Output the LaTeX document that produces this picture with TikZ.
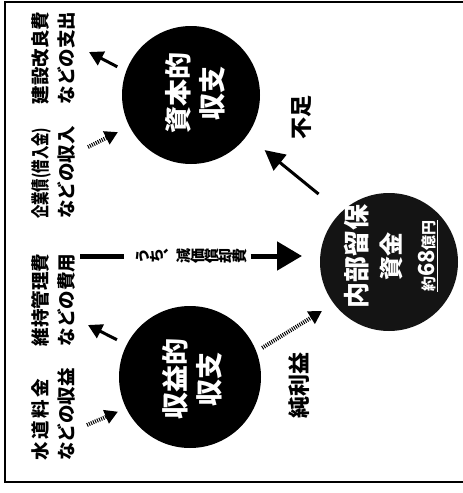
\documentclass[tikz,border=0pt]{standalone}
\usepackage{fontspec}
\newfontfamily\jp{Noto Sans CJK JP}
\usetikzlibrary{arrows.meta}
\begin{document}
\begin{tikzpicture}[x=1pt,y=-1pt,
  circ/.style={circle, fill=black, inner sep=0pt, outer sep=0pt, minimum size=#1},
  lab/.style={rotate=90, align=left, inner sep=0pt, font=\jp\bfseries\fontsize{18.5}{26}\selectfont},
  ctext/.style={rotate=90, align=center, text=white, inner sep=0pt, font=\jp\bfseries\fontsize{27}{34}\selectfont},
  side/.style={rotate=90, inner sep=0pt, font=\jp\bfseries\fontsize{22}{26}\selectfont},
  solidarr/.style={line width=3pt, -{Triangle[length=14pt,width=15pt]}},
  bigsolid/.style={line width=3pt, -{Triangle[length=20pt,width=20pt]}},
  dotarr/.style={line width=4pt, dash pattern=on 1pt off 1.2pt, -{Triangle[length=13pt,width=14pt]}},
  bigarr/.style={line width=5pt, -{Triangle[length=25pt,width=28pt]}}
]
\useasboundingbox (0,0) rectangle (463,493);
\fill[white] (0,0) rectangle (463,493);
\draw[line width=1.2pt] (463,2) -- (5,2) -- (5,482) -- (463,482);

% circles
\node[circ=138] (cap) at (191,95) {};
\node[circ=142] (rev) at (190,377) {};
\node[circ=138, fill=black!92] (int) at (389,262) {};

% circle texts
\node[ctext] (capT) at (195,93) {資本的\\収支};
\node[ctext] (revT) at (192,379) {収益的\\収支};
\node[ctext] (intT) at (391,256) {{\fontsize{26}{34}\selectfont 内部留保}\\[0pt]{\fontsize{24}{34}\selectfont 資金}\\[0pt]\underline{{\fontsize{15}{34}\selectfont 約}{\fontsize{22}{34}\selectfont 68}{\fontsize{15}{34}\selectfont 億円}}};

% outside labels
\node[lab] (lkensetsu) at (53,58) {建設改良費\\などの支出};
\node[lab, anchor=west] (lkigyo) at (53,219) {\resizebox{91pt}{\height}{企業債(借入金)}\\などの収入};
\node[lab] (liji) at (53,300) {維持管理費\\などの費用};
\node[lab, anchor=west] (lsuido) at (53,461) {水\hspace{2.5pt}道\hspace{2.5pt}料\hspace{2.5pt}金\\などの収益};

\node[side] (lfusoku) at (302,117) {不足};
\node[side] (ljunri) at (299,385) {純利益};

% free ends
\coordinate (kenE) at (89,52);
\coordinate (kigS) at (88,147);
\coordinate (ijiE) at (88,325);
\coordinate (suiS) at (87,425);
\coordinate (hs) at (80,256);

% arrows
\draw[solidarr, shorten <=10pt] (cap.160) -- (kenE);
\draw[dotarr, shorten >=13pt] (kigS) -- (cap.207);
\draw[solidarr, shorten <=11pt] (rev.153) -- (ijiE);
\draw[dotarr, shorten >=9pt] (suiS) -- (rev.206);
\draw[bigsolid, shorten <=29pt, shorten >=23pt] (int.134) -- (cap.324);
\draw[dotarr, shorten <=7pt, shorten >=14pt] (rev.21) -- (int.217);

% horizontal arrow with vertical text
\node[inner sep=0pt, font=\jp\bfseries\fontsize{15}{18}\selectfont] (hl) at (192,256)
  {\rotatebox{90}{う}\rotatebox{90}{ち}\rotatebox{90}{︑}\rotatebox{90}{減}\rotatebox{90}{価}\rotatebox{90}{償}\rotatebox{90}{却}\rotatebox{90}{費}};
\draw[line width=5pt, shorten >=12pt] (hs) -- (hl.west |- hs);
\draw[bigarr, shorten <=3pt, shorten >=18pt] (hl.east |- hs) -- (int.west |- hs);
\end{tikzpicture}
\end{document}
